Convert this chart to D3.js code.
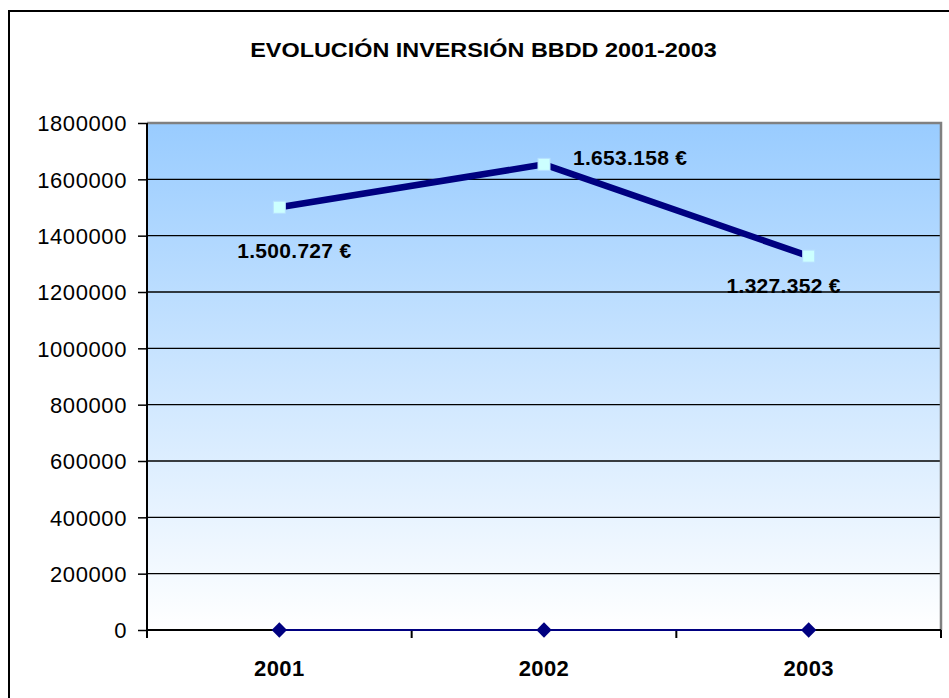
<!DOCTYPE html>
<html><head><meta charset="utf-8">
<script src="https://cdn.jsdelivr.net/npm/d3@7"></script>
<style>
html,body{margin:0;padding:0;background:#fff;}
svg{display:block;font-family:"Liberation Sans",Arial,sans-serif;}
</style></head>
<body>
<svg id="c" width="949" height="698"></svg>
<script>
const title = "EVOLUCIÓN INVERSIÓN BBDD 2001-2003";
const categories = ["2001", "2002", "2003"];
const inversion = [1500727, 1653158, 1327352];
const baseSeries = [0, 0, 0];
const yTicks = [0, 200000, 400000, 600000, 800000, 1000000, 1200000, 1400000, 1600000, 1800000];
const yMax = 1800000;

const svg = d3.select("#c");
const L = 147, R = 941, T = 123, B = 630;

// outer border
svg.append("rect").attr("x", 9).attr("y", 11).attr("width", 1000).attr("height", 800)
  .attr("fill", "#fff").attr("stroke", "#000").attr("stroke-width", 2);

const defs = svg.append("defs");
const g = defs.append("linearGradient").attr("id", "bg").attr("x1", 0).attr("y1", 0).attr("x2", 0).attr("y2", 1);
g.append("stop").attr("offset", "0%").attr("stop-color", "#99ccff");
g.append("stop").attr("offset", "100%").attr("stop-color", "#ffffff");

const x = d3.scaleBand().domain(categories).range([L, R]).padding(0);
const y = d3.scaleLinear().domain([0, yMax]).range([B, T]);
const cx = d => x(d) + x.bandwidth() / 2;

svg.append("rect").attr("x", L).attr("y", T).attr("width", R - L).attr("height", B - T).attr("fill", "url(#bg)");

// gridlines
svg.append("g").selectAll("line").data(yTicks.filter(v => v > 0 && v < yMax)).join("line")
  .attr("x1", L).attr("x2", R).attr("y1", d => y(d)).attr("y2", d => y(d))
  .attr("stroke", "#000").attr("stroke-width", 1.4);

// plot border top/right gray
svg.append("path").attr("d", `M${L},${T}H${R}V${B}`).attr("fill", "none")
  .attr("stroke", "#808080").attr("stroke-width", 2.5);

// y axis
const ya = svg.append("g").attr("transform", `translate(${L},0)`)
  .call(d3.axisLeft(y).tickValues(yTicks).tickSize(9).tickPadding(11).tickFormat(d3.format("d")));
ya.select(".domain").remove();
ya.selectAll(".tick line").attr("stroke", "#000").attr("stroke-width", 1.5);
ya.selectAll(".tick text").attr("font-size", 22).attr("fill", "#000").attr("letter-spacing", "0.6px")
  .attr("font-family", "Liberation Sans, Arial, sans-serif").attr("dy", "0.36em");
svg.append("line").attr("x1", L).attr("x2", L).attr("y1", T).attr("y2", B + 8).attr("stroke", "#000").attr("stroke-width", 2);

// x axis
svg.append("line").attr("x1", L).attr("x2", R).attr("y1", B).attr("y2", B).attr("stroke", "#000").attr("stroke-width", 2);
const xb = categories.map(c => x(c)).concat([R]);
svg.append("g").selectAll("line").data(xb).join("line")
  .attr("x1", d => d).attr("x2", d => d).attr("y1", B).attr("y2", B + 8)
  .attr("stroke", "#000").attr("stroke-width", 2);
svg.append("g").selectAll("text").data(categories).join("text")
  .attr("x", d => cx(d)).attr("y", 676).attr("text-anchor", "middle")
  .attr("font-size", 22).attr("letter-spacing", "0.4px").attr("font-weight", "bold").text(d => d);

// base series
svg.append("path").datum(baseSeries)
  .attr("d", d3.line().x((d, i) => cx(categories[i])).y(d => y(d)))
  .attr("fill", "none").attr("stroke", "#000080").attr("stroke-width", 2);
svg.append("g").selectAll("path").data(baseSeries).join("path")
  .attr("d", d3.symbol(d3.symbolDiamond2, 150))
  .attr("transform", (d, i) => `translate(${cx(categories[i])},${y(d)})`)
  .attr("fill", "#000080");

// main series
svg.append("path").datum(inversion)
  .attr("d", d3.line().x((d, i) => cx(categories[i])).y(d => y(d)))
  .attr("fill", "none").attr("stroke", "#000080").attr("stroke-width", 6.5);
svg.append("g").selectAll("rect").data(inversion).join("rect")
  .attr("x", (d, i) => cx(categories[i]) - 6).attr("y", d => y(d) - 6)
  .attr("width", 12).attr("height", 12)
  .attr("fill", "#ccffff").attr("stroke", "#b8e0ff").attr("stroke-width", 1);

// data labels
const fmt = v => d3.format(",")(v).replace(/,/g, ".") + " €";
const labelOff = [[15, 51, "middle"], [29, 1, "start"], [-25, 37, "middle"]];
svg.append("g").selectAll("text").data(inversion).join("text")
  .attr("x", (d, i) => cx(categories[i]) + labelOff[i][0])
  .attr("y", (d, i) => y(d) + labelOff[i][1])
  .attr("text-anchor", (d, i) => labelOff[i][2])
  .attr("font-size", 21).attr("letter-spacing", "0.3px").attr("font-weight", "bold").text(fmt);

// title
svg.append("text").attr("x", 0).attr("y", 0)
  .attr("transform", "translate(483.5,56.5) scale(1.17,1)")
  .attr("text-anchor", "middle").attr("font-size", 20).attr("font-weight", "bold").text(title);
</script>
</body></html>
